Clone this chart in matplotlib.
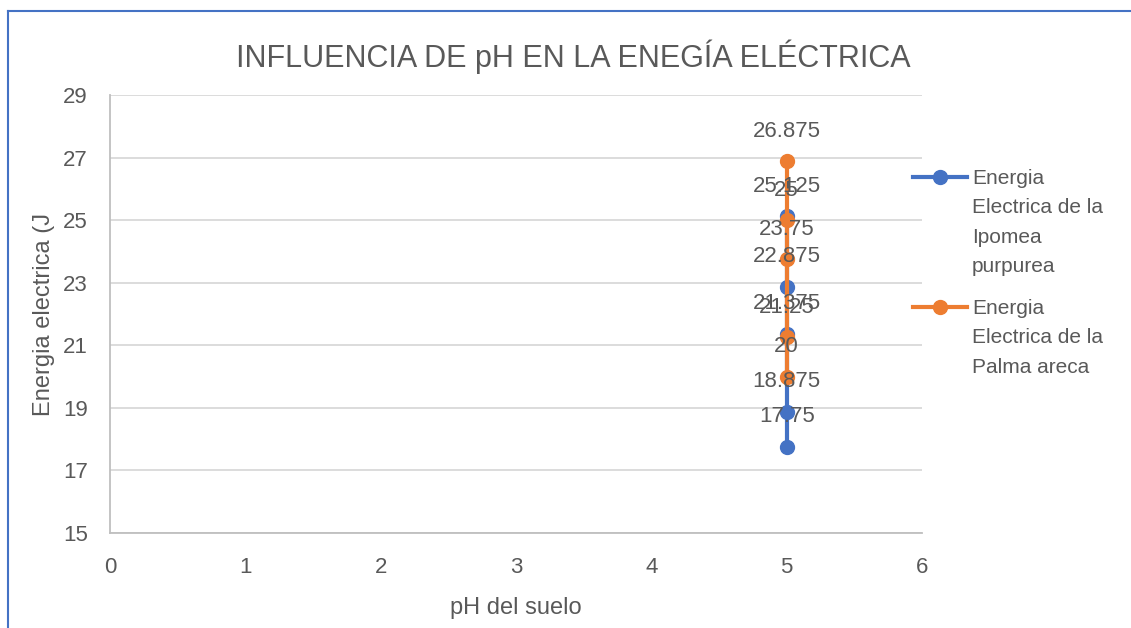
import matplotlib.pyplot as plt
from matplotlib.lines import Line2D

plt.rcParams['font.family'] = ['Liberation Sans', 'DejaVu Sans']

# data
ph_ipomea = [5, 5, 5, 5, 5]
energia_ipomea = [17.75, 18.875, 21.375, 22.875, 25.125]
ph_palma = [5, 5, 5, 5, 5]
energia_palma = [20, 21.25, 23.75, 25, 26.875]

label_ipomea = 'Energia\nElectrica de la\nIpomea\npurpurea'
label_palma = 'Energia\nElectrica de la\nPalma areca'

blue = '#4472C4'
orange = '#ED7D31'
txt = '#595959'

W, H = 1131, 628
fig = plt.figure(figsize=(W / 100, H / 100), dpi=100)
ax = fig.add_axes([110 / W, 1 - 533 / H, (922 - 110) / W, (533 - 95) / H])

ax.plot(ph_ipomea, energia_ipomea, color=blue, lw=3, marker='o', ms=10, zorder=3)
ax.plot(ph_palma, energia_palma, color=orange, lw=3, marker='o', ms=10, zorder=4)

for x, y in zip(ph_ipomea, energia_ipomea):
    ax.annotate(f'{y:g}', (x, y), xytext=(0, 30), textcoords='offset pixels',
                ha='center', va='center', fontsize=16, color=txt, zorder=5)
for x, y in zip(ph_palma, energia_palma):
    ax.annotate(f'{y:g}', (x, y), xytext=(0, 30), textcoords='offset pixels',
                ha='center', va='center', fontsize=16, color=txt, zorder=5)

ax.set_xlim(0, 6)
ax.set_ylim(15, 29)
ax.set_xticks(range(0, 7))
ax.set_yticks(range(15, 30, 2))
ax.grid(axis='y', color='#D9D9D9', lw=1.3)
ax.set_axisbelow(True)
for s in ['top', 'right']:
    ax.spines[s].set_visible(False)
for s in ['left', 'bottom']:
    ax.spines[s].set_color('#BFBFBF')
    ax.spines[s].set_linewidth(1.3)
ax.tick_params(length=0, labelsize=16, labelcolor=txt)
ax.tick_params(axis='x', pad=17)
ax.tick_params(axis='y', pad=16)

ax.set_xlabel('pH del suelo', fontsize=17, color=txt, labelpad=14)
ax.set_ylabel('Energia electrica (J', fontsize=17, color=txt, labelpad=6)

fig.text(573 / W, 1 - 57 / H, 'INFLUENCIA DE pH EN LA ENEGÍA ELÉCTRICA',
         ha='center', va='center', fontsize=22, color=txt)

# legend drawn by hand so the handle sits on the first line
for ypx, col, lab in [(177, blue, label_ipomea), (307, orange, label_palma)]:
    yf = 1 - ypx / H
    fig.add_artist(Line2D([913 / W, 967 / W], [yf, yf], color=col, lw=3,
                          transform=fig.transFigure))
    fig.add_artist(Line2D([940 / W], [yf], color=col, marker='o', ms=10,
                          transform=fig.transFigure))
    fig.text(972 / W, yf + 8 / H, lab, ha='left', va='top', fontsize=15,
             color=txt, linespacing=1.69)

# chart frame
fig.add_artist(Line2D([8 / W, 8 / W], [0, 1 - 11 / H], color=blue, lw=1.5,
                      transform=fig.transFigure))
fig.add_artist(Line2D([8 / W, 1], [1 - 11 / H, 1 - 11 / H], color=blue, lw=1.5,
                      transform=fig.transFigure))

fig.savefig('out.png', dpi=100)
